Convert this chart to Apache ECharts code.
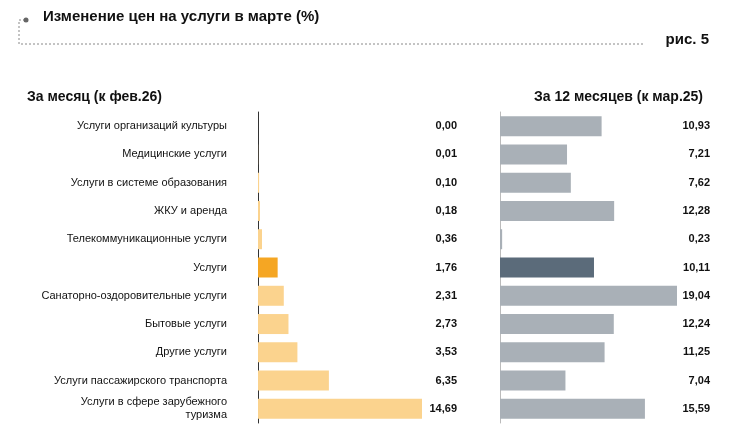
<!DOCTYPE html>
<html><head><meta charset="utf-8">
<script src="https://cdn.jsdelivr.net/npm/echarts@6/dist/echarts.min.js"></script>
<style>body{margin:0;background:#fff}#main{width:734px;height:439px}</style>
</head><body><div id="main"></div>
<script>
var categories = ['Услуги организаций культуры','Медицинские услуги','Услуги в системе образования','ЖКУ и аренда','Телекоммуникационные услуги','Услуги','Санаторно-оздоровительные услуги','Бытовые услуги','Другие услуги','Услуги пассажирского транспорта','Услуги в сфере зарубежного\nтуризма'];
var monthVals = [0.00,0.01,0.10,0.18,0.36,1.76,2.31,2.73,3.53,6.35,14.69];
var yearVals = [10.93,7.21,7.62,12.28,0.23,10.11,19.04,12.24,11.25,7.04,15.59];
var totalName = 'Услуги';

var font = 'Liberation Sans, Arial, sans-serif';
function fmt(v){return v.toFixed(2).replace('.',',');}
var myChart = echarts.init(document.getElementById('main'));
var option = {
  animation:false,
  textStyle:{fontFamily:font},
  title:[
    {text:'Изменение цен на услуги в марте (%)',left:38,top:4,textStyle:{fontSize:15,fontWeight:'bold',color:'#111',fontFamily:font}},
    {text:'рис. 5',right:20,top:27,textStyle:{fontSize:15,fontWeight:'bold',color:'#111',fontFamily:font}},
    {text:'За месяц (к фев.26)',left:22,top:85,textStyle:{fontSize:14,fontWeight:'bold',color:'#111',fontFamily:font}},
    {text:'За 12 месяцев (к мар.25)',right:26,top:85,textStyle:{fontSize:14,fontWeight:'bold',color:'#111',fontFamily:font}}
  ],
  graphic:[
    {type:'polyline',shape:{points:[[25,20],[19,20],[19,44],[645,44]]},style:{stroke:'#888',lineDash:[2,2],lineWidth:1,fill:null}},
    {type:'circle',shape:{cx:26,cy:20,r:2.5},style:{fill:'#666'}}
  ],
  grid:[
    {left:258,right:312,top:112,bottom:16},
    {left:500,right:57,top:112,bottom:16}
  ],
  xAxis:[
    {gridIndex:0,type:'value',min:0,max:14.69,show:false},
    {gridIndex:1,type:'value',min:0,max:19.04,show:false}
  ],
  yAxis:[
    {gridIndex:0,type:'category',inverse:true,data:categories,axisTick:{show:false},
     axisLine:{lineStyle:{color:'#333',width:1}},
     axisLabel:{margin:31,fontSize:11,color:'#111',align:'right',lineHeight:13}},
    {gridIndex:0,type:'category',inverse:true,position:'right',data:monthVals.map(fmt),axisTick:{show:false},axisLine:{show:false},
     axisLabel:{margin:35,align:'right',fontSize:11,fontWeight:'bold',color:'#111'}},
    {gridIndex:1,type:'category',inverse:true,data:categories,axisTick:{show:false},
     axisLine:{lineStyle:{color:'#bbb',width:1}},axisLabel:{show:false}},
    {gridIndex:1,type:'category',inverse:true,position:'right',data:yearVals.map(fmt),axisTick:{show:false},axisLine:{show:false},
     axisLabel:{margin:33,align:'right',fontSize:11,fontWeight:'bold',color:'#111'}}
  ],
  series:[
    {type:'bar',xAxisIndex:0,yAxisIndex:0,barWidth:20,
     data:monthVals.map(function(v,i){return {value:v,itemStyle:{color:categories[i]===totalName?'#f5a623':'#fbd38e'}};})},
    {type:'bar',xAxisIndex:1,yAxisIndex:2,barWidth:20,
     data:yearVals.map(function(v,i){return {value:v,itemStyle:{color:categories[i]===totalName?'#5b6b7a':'#a9b0b7'}};})}
  ]
};
myChart.setOption(option);
</script></body></html>
